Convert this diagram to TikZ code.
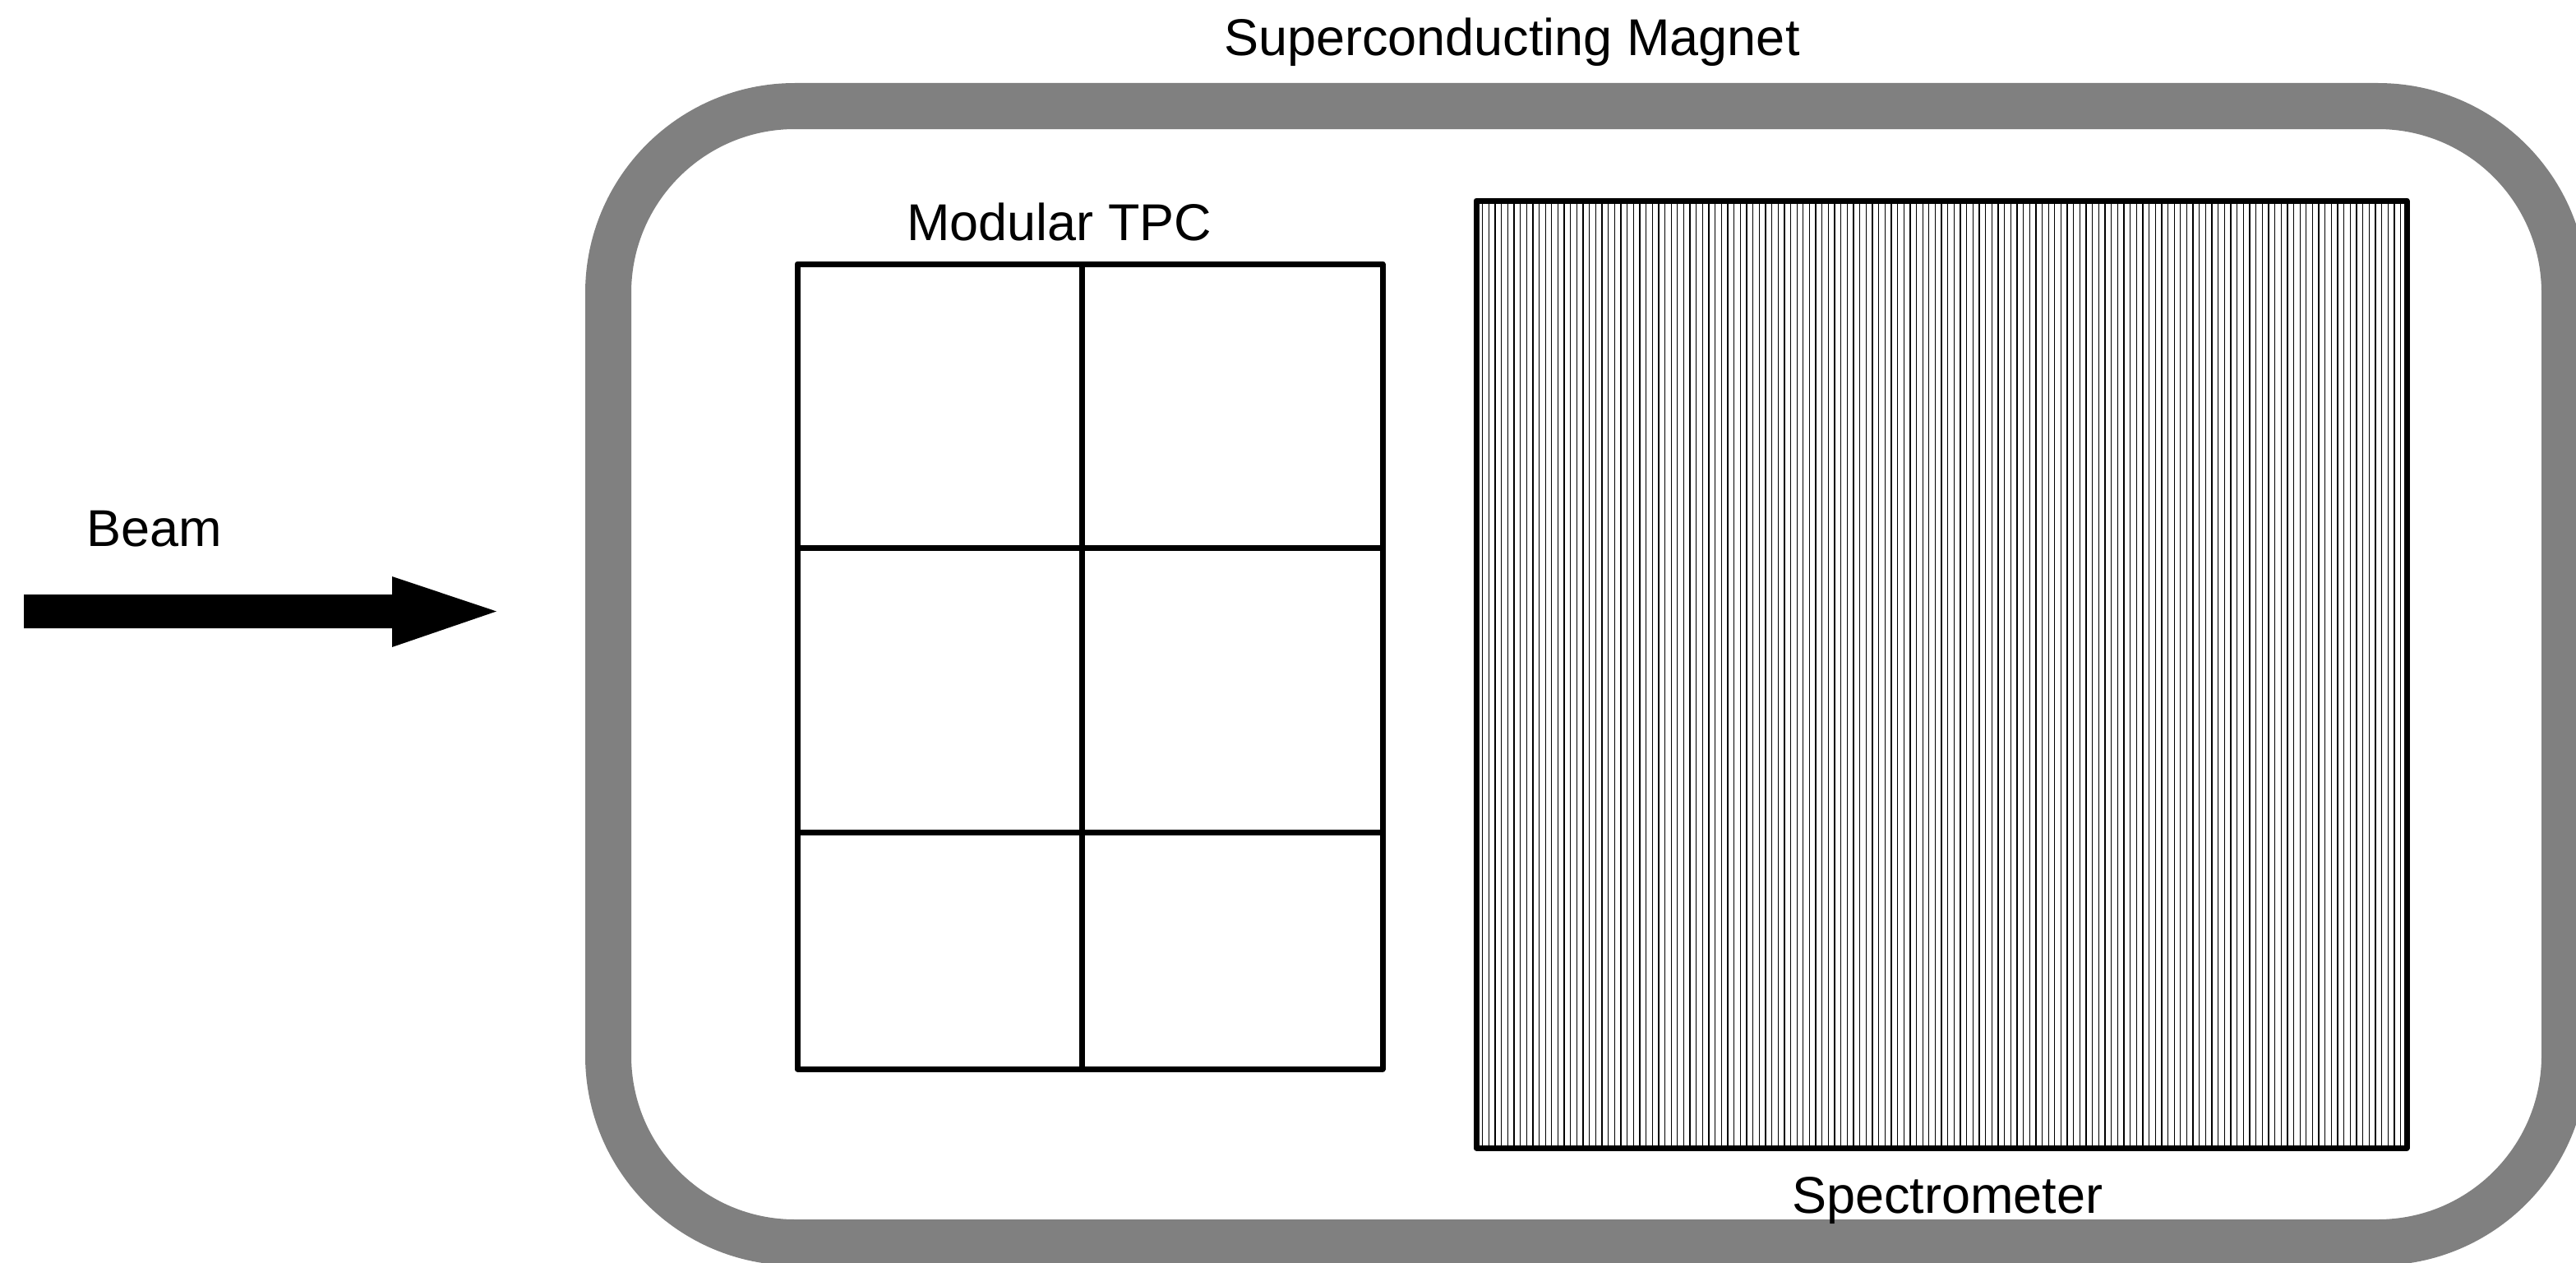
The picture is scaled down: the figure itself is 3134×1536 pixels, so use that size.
\documentclass[tikz,border=0pt]{standalone}
\usepackage{fontspec}
\setmainfont{Liberation Sans}
\begin{document}
\begin{tikzpicture}[x=1pt,y=-1pt,
  lbl/.style={inner sep=0pt, anchor=base west, font=\fontsize{63}{75}\selectfont},
  magnet/.style={draw=black!50, line width=56pt, rounded corners=227pt},
  frame/.style={draw=black, line width=7pt, line join=round},
  hair/.style={draw=black, line width=1.3pt}]
\useasboundingbox (0,0) rectangle (3134,1536);
\clip (0,0) rectangle (3134,1536);
\fill[white] (0,0) rectangle (3134,1536);

% superconducting magnet
\draw[magnet] (740,129) rectangle (3120,1511);
\node[lbl] (magnetlabel) at (1489,68) {Superconducting Magnet};

% modular TPC
\coordinate (tpcnw) at (970,321);
\coordinate (tpcse) at (1682,1300);
\draw[frame] (tpcnw) rectangle (tpcse);
\draw[frame] (1316,321) -- (1316,1300);
\draw[frame] (970,666) -- (1682,666);
\draw[frame] (970,1012) -- (1682,1012);
\node[lbl] (tpclabel) at (1103,292) {Modular TPC};

% spectrometer
\coordinate (specnw) at (1796,244);
\coordinate (specse) at (2928,1396);
\foreach \i in {1,...,147} {
  \draw[hair] ({1796+\i*7.65},244) -- ({1796+\i*7.65},1396);
}
\draw[frame] (specnw) rectangle (specse);
\node[lbl] (speclabel) at (2180,1475) {Spectrometer};

% beam
\coordinate (beamtail) at (29,743.5);
\coordinate (beamtip) at (604,743.5);
\fill[black] (29,723) -- (477,723) -- (477,701) -- (beamtip) -- (477,787) -- (477,764) -- (29,764) -- cycle;
\node[lbl] (beamlabel) at (105,664) {Beam};
\end{tikzpicture}
\end{document}
